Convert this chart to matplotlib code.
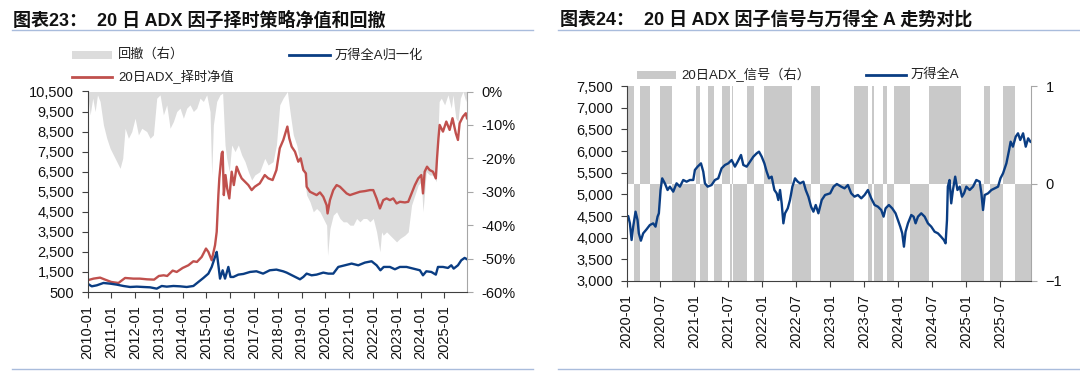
import matplotlib
matplotlib.use("Agg")
import matplotlib.pyplot as plt
from matplotlib.lines import Line2D
from matplotlib.patches import Rectangle
from matplotlib.ticker import FuncFormatter
import numpy as np

plt.rcParams['font.family'] = ['Liberation Sans', 'Noto Sans CJK SC', 'DejaVu Sans']

# ---------------- Left chart data (decimal years) ----------------
nav_t = [2010.0, 2010.25, 2010.53, 2010.74, 2011.0, 2011.3, 2011.58, 2011.93, 2012.2, 2012.5,
         2012.8, 2013.0, 2013.2, 2013.35, 2013.58, 2013.75, 2014.0, 2014.24, 2014.45, 2014.6,
         2014.8, 2014.98, 2015.08, 2015.22, 2015.36, 2015.43, 2015.5, 2015.54, 2015.64, 2015.68,
         2015.73, 2015.8, 2015.87, 2015.96, 2016.06, 2016.15, 2016.27, 2016.38, 2016.48, 2016.62,
         2016.76, 2016.9, 2017.03, 2017.24, 2017.45, 2017.6, 2017.78, 2017.94, 2018.08, 2018.23,
         2018.4, 2018.48, 2018.58, 2018.72, 2018.86, 2018.96, 2019.07, 2019.18, 2019.21, 2019.35,
         2019.49, 2019.63, 2019.77, 2019.91, 2020.05, 2020.09, 2020.19, 2020.33, 2020.47, 2020.61,
         2020.75, 2020.89, 2021.03, 2021.24, 2021.45, 2021.66, 2021.87, 2022.01, 2022.15, 2022.29,
         2022.43, 2022.57, 2022.71, 2022.85, 2022.99, 2023.13, 2023.34, 2023.48, 2023.62, 2023.76,
         2023.9, 2024.03, 2024.1, 2024.17, 2024.27, 2024.38, 2024.52, 2024.64, 2024.69, 2024.75,
         2024.8, 2024.94, 2025.08, 2025.22, 2025.34, 2025.48, 2025.57, 2025.64, 2025.78, 2025.9,
         2025.95]
nav_v = [1083, 1167, 1217, 1117, 1000, 950, 1200, 1167, 1167, 1133,
         1117, 1300, 1333, 1300, 1567, 1500, 1700, 1833, 2033, 2000,
         2250, 2667, 2500, 2083, 2833, 3500, 5333, 6167, 7417, 7500,
         5333, 6333, 5667, 5167, 6500, 5833, 6750, 6417, 6167, 6000,
         5833, 5583, 5750, 5917, 6333, 6167, 6083, 6583, 7667, 8083,
         8750, 8167, 7750, 7500, 7000, 7167, 6583, 6417, 5750, 5500,
         5417, 5333, 5467, 5250, 4833, 4417, 5083, 5583, 5833, 5750,
         5583, 5417, 5333, 5417, 5500, 5533, 5583, 5583, 5167, 4667,
         5083, 5167, 5083, 5167, 4917, 5000, 4967, 5000, 5417, 5833,
         6167, 6333, 5417, 6500, 6750, 6583, 6500, 6167, 7167, 8167,
         8833, 8500, 9000, 8583, 9167, 8417, 8083, 8917, 9250, 9417,
         9167]

wind_norm_t = [2010.0, 2010.18, 2010.39, 2010.67, 2010.95, 2011.23, 2011.51, 2011.79, 2012.07, 2012.35,
               2012.63, 2012.91, 2013.12, 2013.33, 2013.61, 2013.89, 2014.17, 2014.45, 2014.66, 2014.87,
               2015.08, 2015.22, 2015.36, 2015.43, 2015.51, 2015.57, 2015.68, 2015.78, 2015.92, 2016.01,
               2016.13, 2016.34, 2016.55, 2016.83, 2017.1, 2017.38, 2017.66, 2017.94, 2018.22, 2018.37,
               2018.65, 2018.93, 2019.07, 2019.21, 2019.42, 2019.63, 2019.91, 2020.12, 2020.33, 2020.54,
               2020.82, 2021.1, 2021.38, 2021.66, 2021.94, 2022.15, 2022.31, 2022.45, 2022.71, 2022.92,
               2023.13, 2023.41, 2023.69, 2023.97, 2024.1, 2024.24, 2024.45, 2024.64, 2024.73, 2024.94,
               2025.15, 2025.29, 2025.39, 2025.57, 2025.71, 2025.85, 2025.95]
wind_norm_v = [917, 783, 833, 950, 917, 867, 800, 750, 767, 750,
               733, 667, 800, 767, 800, 783, 750, 800, 1000, 1200,
               1417, 1750, 2250, 2500, 1750, 1167, 1583, 1167, 1750, 1250,
               1250, 1367, 1400, 1500, 1533, 1417, 1583, 1617, 1533, 1467,
               1300, 1133, 1250, 1417, 1333, 1367, 1467, 1417, 1417, 1750,
               1833, 1917, 1833, 1967, 2033, 1833, 1583, 1750, 1750, 1633,
               1750, 1750, 1667, 1583, 1333, 1533, 1500, 1367, 1750, 1750,
               1700, 1833, 1667, 1833, 2083, 2200, 2133]

dd_t = [2010.0, 2010.11, 2010.22, 2010.32, 2010.42, 2010.53, 2010.67, 2010.81, 2010.95, 2011.09,
        2011.23, 2011.37, 2011.48, 2011.58, 2011.72, 2011.86, 2012.0, 2012.14, 2012.28, 2012.49,
        2012.63, 2012.77, 2012.91, 2013.05, 2013.19, 2013.33, 2013.47, 2013.61, 2013.75, 2013.89,
        2014.03, 2014.17, 2014.31, 2014.45, 2014.59, 2014.73, 2014.87, 2015.01, 2015.15, 2015.22,
        2015.29, 2015.43, 2015.57, 2015.68, 2015.78, 2015.85, 2015.96, 2016.06, 2016.2, 2016.34,
        2016.48, 2016.62, 2016.76, 2016.9, 2017.03, 2017.24, 2017.45, 2017.59, 2017.8, 2017.94,
        2018.08, 2018.22, 2018.4, 2018.51, 2018.65, 2018.79, 2018.93, 2019.07, 2019.21, 2019.35,
        2019.49, 2019.63, 2019.77, 2019.91, 2020.05, 2020.09, 2020.19, 2020.33, 2020.47, 2020.61,
        2020.75, 2020.89, 2021.03, 2021.17, 2021.31, 2021.45, 2021.59, 2021.73, 2021.87, 2022.01,
        2022.15, 2022.29, 2022.36, 2022.43, 2022.57, 2022.71, 2022.85, 2022.99, 2023.13, 2023.34,
        2023.48, 2023.62, 2023.76, 2023.9, 2024.03, 2024.1, 2024.24, 2024.38, 2024.52, 2024.66,
        2024.78, 2024.87, 2025.01, 2025.15, 2025.29, 2025.36, 2025.48, 2025.57, 2025.67, 2025.78,
        2025.9, 2025.95]
dd_pct = [0, -7, -2, -6, -1, -3, -10, -14, -17, -19,
          -21, -23, -20, -11, -14, -12, -8, -13, -11, -12,
          -14, -13, -2, -1, -7, -4, -11, -9, -6, -5,
          -8, -5, -4, -6, -5, -2, -3, -1, -6, -25,
          -10, -3, -1, -0.5, -16, -20, -24, -16, -18, -16,
          -19, -21, -24, -26.5, -25, -24, -20, -22, -21, -16,
          -4, -2, 0, -6, -13, -16, -21, -23, -31, -33,
          -36, -35, -36, -38, -40, -49, -41, -37, -36, -38,
          -39, -39, -40, -40, -38, -39, -38, -38, -39, -38,
          -42, -48, -42, -43, -42, -43, -44, -45, -44, -43,
          -42, -34, -31, -28, -27, -36, -24, -25, -25, -27,
          -3, -2, -4, -1, -5, -1, -8, -9, -2, 0,
          -3, -1]

left_years = list(range(2010, 2026))
left_xlabels = [f"{y}-01" for y in left_years]
left_yticks = list(range(500, 10501, 1000))
dd_ticks = [0, -10, -20, -30, -40, -50, -60]

# ---------------- Right chart data (months since 2020-01) ----------------
wind_m = [0, 0.3, 0.6, 0.9, 1.18, 1.6, 1.95, 2.18, 2.54, 2.95, 3.54, 4.13, 4.72, 5.13, 5.49,
          5.72, 6.02, 6.31, 6.78, 7.26, 7.67, 8.26, 8.85, 9.44, 10.03, 10.62, 11.21, 11.8, 12.09, 12.57,
          13.16, 13.57, 13.86, 14.34, 15.04, 15.63, 16.22, 16.81, 17.4, 17.99, 18.58, 19.17, 19.65, 20.24, 20.65,
          21.24, 21.83, 22.42, 23.01, 23.42, 23.9, 24.37, 24.78, 25.19, 25.66, 26.14, 26.55, 26.84, 27.14, 27.43,
          27.73, 28.02, 28.5, 28.9, 29.32, 29.79, 30.27, 30.68, 31.27, 31.68, 32.15, 32.63, 33.04, 33.45, 33.92,
          34.51, 35.1,
          36.0, 36.6, 37.18, 37.95, 38.54, 39.13, 39.72, 40.3, 40.9, 41.5, 42.08, 42.67, 43.26, 43.85, 44.44,
          45.03, 45.44, 45.8, 46.38, 46.97, 47.56, 47.98, 48.39, 48.74, 49.04, 49.33, 49.75, 50.34, 50.75, 51.1,
          51.52, 52.1, 52.7, 53.28, 53.87, 54.46, 55.05, 55.6, 56.1, 56.4, 56.65, 56.8, 57.1, 57.4, 57.7,
          58.1, 58.5, 58.9, 59.3, 59.66, 60.07, 60.66, 61.25, 61.84, 62.43, 62.73, 63.02, 63.32, 63.91, 64.5,
          65.1, 65.68, 66.1, 66.56, 67.15, 67.63, 67.9, 68.3, 68.8, 69.2, 69.6, 70.1, 70.57, 71.0, 71.4]
wind_v = [4485, 4500, 4330, 3946, 4254, 4600, 4408, 4100, 3930, 4100, 4192, 4292, 4330, 4254, 4485,
          4562, 5100, 5369, 5254, 5100, 5177, 5062, 5254, 5177, 5331, 5292, 5331, 5331, 5562, 5639,
          5715, 5523, 5254, 5177, 5215, 5331, 5369, 5600, 5677, 5715, 5792, 5639, 5754, 5908, 5677,
          5639, 5754, 5869, 5946, 5985, 5869, 5715, 5523, 5369, 5408, 5100, 5023, 4869, 5100, 4792,
          4331, 4562, 4677, 4869, 5177, 5369, 5292, 5254, 5292, 5100, 4946, 4715, 4600, 4754, 4562,
          4869, 4985,
          5023, 5177, 5238, 5177, 5138, 5215, 5023, 4946, 4985, 4908, 4985, 5100, 4908, 4754, 4715,
          4638, 4485, 4677, 4754, 4677, 4562, 4408, 4254, 4100, 3792, 4138, 4331, 4523, 4485, 4331,
          4485, 4562, 4485, 4331, 4254, 4138, 4100, 4023, 3946, 3869, 4408, 5177, 5331, 4792, 5100,
          5408, 5100, 5177, 4946, 5023, 5177, 5100, 5177, 5331, 5292, 5023, 4638, 4985, 5023, 5100,
          5138, 5177, 5369, 5485, 5715, 6023, 6215, 6100, 6331, 6408, 6254, 6408, 6100, 6292, 6215]

signal_edges_m = [0, 1.36, 2.36, 4.2, 5.85, 8.0, 12.2, 12.98, 14.4, 15.46, 16.87, 18.29, 18.7, 18.9,
                  21.3, 22.45, 24.33, 29.3, 32.55, 34.2, 40.2, 42.7, 43.4, 43.75, 45.4, 46.0, 47.35,
                  50.2, 53.55, 59.05, 63.25, 64.2, 66.6, 68.75, 71.5]
signal_vals = [1, -1, 1, -1, 1, -1, 1, -1, 1, -1, 1, -1, 1, -1, 1, -1, 1,
               -1, 1, -1, 1, -1, 1, -1, 1, -1, 1, -1, 1, -1, 1, -1, 1, -1]

right_xticks_m = list(range(0, 67, 6))
right_xlabels = ["2020-01", "2020-07", "2021-01", "2021-07", "2022-01", "2022-07",
                 "2023-01", "2023-07", "2024-01", "2024-07", "2025-01", "2025-07"]
right_yticks = list(range(3000, 7501, 500))
signal_ticks = [-1, 0, 1]

# ---------------- styling ----------------
RED = '#C0504D'
BLUE = '#0A3D83'
DD_GREY = '#DCDCDC'
SIG_GREY = '#C9C9C9'
LINE_BLUE = '#A9BCDC'
AXC = '#404040'
RAXC = '#A6A6A6'
FS = 10.5
W, H = 1080, 379

fig = plt.figure(figsize=(W / 100, H / 100), dpi=100)
fig.patch.set_facecolor('white')

def fx(px):
    return px / W

def fy(py):
    return 1 - py / H

comma = FuncFormatter(lambda v, p: f"{int(v):,}")

def style_axes(ax, axr):
    ax.spines['top'].set_visible(False)
    axr.spines['top'].set_visible(False)
    ax.spines['right'].set_visible(False)
    axr.spines['left'].set_visible(False)
    axr.spines['bottom'].set_visible(False)
    ax.spines['left'].set_color(AXC)
    ax.spines['bottom'].set_color(AXC)
    axr.spines['right'].set_color(RAXC)
    ax.tick_params(axis='both', direction='out', length=4.5, width=0.8, color=AXC,
                   labelsize=FS, pad=5, labelcolor='#111111')
    axr.tick_params(axis='y', direction='out', length=4.5, width=0.8, color=RAXC,
                    labelsize=FS, pad=6, labelcolor='#111111')

# ---------------- Left chart ----------------
ax1 = fig.add_axes([fx(87.5), fy(292), fx(467) - fx(87.5), fy(91.5) - fy(292)])
ax1r = ax1.twinx()
ax1r.fill_between(dd_t, np.array(dd_pct), 0, color=DD_GREY, lw=0)
ax1r.set_ylim(-60, 0)
ax1r.set_yticks(dd_ticks)
ax1r.set_yticklabels([f"{t}%" for t in dd_ticks])
ax1.set_zorder(ax1r.get_zorder() + 1)
ax1.patch.set_visible(False)
ax1.plot(nav_t, nav_v, color=RED, lw=1.7, solid_joinstyle='round')
ax1.plot(wind_norm_t, wind_norm_v, color=BLUE, lw=1.7, solid_joinstyle='round')
ax1.set_xlim(2010.0, 2025.95)
ax1.set_ylim(500, 10500)
ax1.set_yticks(left_yticks)
ax1.yaxis.set_major_formatter(comma)
ax1.set_xticks(left_years)
ax1.set_xticklabels(left_xlabels, rotation=90)
style_axes(ax1, ax1r)

# ---------------- Right chart ----------------
ax2 = fig.add_axes([fx(626.5), fy(281), fx(1031) - fx(626.5), fy(86) - fy(281)])
ax2r = ax2.twinx()
sig_x = [2020 + m / 12 for m in signal_edges_m]
sig_w = np.diff(sig_x)
ax2r.bar(sig_x[:-1], signal_vals, width=sig_w, align='edge', color=SIG_GREY, lw=0)
ax2r.set_ylim(-1, 1)
ax2r.set_yticks(signal_ticks)
ax2.set_zorder(ax2r.get_zorder() + 1)
ax2.patch.set_visible(False)
ax2.plot([2020 + m / 12 for m in wind_m], wind_v, color=BLUE, lw=1.7, solid_joinstyle='round')
ax2.set_xlim(2020.0, 2020 + 71.5 / 12)
ax2.set_ylim(3000, 7500)
ax2.set_yticks(right_yticks)
ax2.yaxis.set_major_formatter(comma)
ax2.set_xticks([2020 + m / 12 for m in right_xticks_m])
ax2.set_xticklabels(right_xlabels, rotation=90)
style_axes(ax2, ax2r)

# ---------------- Titles and rules ----------------
fig.text(fx(13), fy(20.5), "图表23：  20 日 ADX 因子择时策略净值和回撤", fontsize=13,
         fontweight='bold', va='center', ha='left', color='#111111')
fig.text(fx(560), fy(20.5), "图表24：  20 日 ADX 因子信号与万得全 A 走势对比", fontsize=13,
         fontweight='bold', va='center', ha='left', color='#111111')
for x0, x1 in [(12, 533), (558, 1080)]:
    for yy in [29.5, 368.5]:
        fig.add_artist(Line2D([fx(x0), fx(x1)], [fy(yy), fy(yy)], color=LINE_BLUE, lw=1.0,
                              transform=fig.transFigure))

# ---------------- Legends (drawn manually) ----------------
LFS = 9.5
def leg_patch(x0, x1, yc, color):
    fig.add_artist(Rectangle((fx(x0), fy(yc + 4)), fx(x1) - fx(x0), fy(yc - 4) - fy(yc + 4),
                             transform=fig.transFigure, color=color, lw=0))

def leg_line(x0, x1, yc, color):
    fig.add_artist(Line2D([fx(x0), fx(x1)], [fy(yc), fy(yc)], color=color, lw=2.0,
                          transform=fig.transFigure))

def leg_text(x, yc, s):
    fig.text(fx(x), fy(yc), s, fontsize=LFS, va='center', ha='left', color='#222222')

leg_patch(72, 112, 54.5, DD_GREY)
leg_text(118, 54.5, "回撤（右）")
leg_line(289, 330, 55, BLUE)
leg_text(335, 55, "万得全A归一化")
leg_line(72, 112, 77, RED)
leg_text(118, 77, "20日ADX_择时净值")

leg_patch(637, 676, 74.5, SIG_GREY)
leg_text(681, 74.5, "20日ADX_信号（右）")
leg_line(866, 906, 74.5, BLUE)
leg_text(911, 74.5, "万得全A")

fig.savefig("out.png", dpi=100, facecolor='white')
